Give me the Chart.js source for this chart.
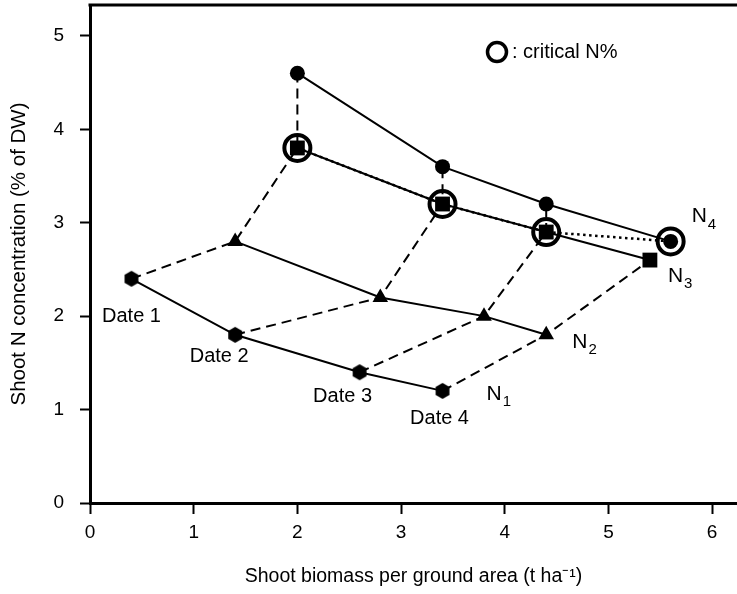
<!DOCTYPE html>
<html>
<head>
<meta charset="utf-8">
<script src="https://cdn.jsdelivr.net/npm/chart.js@4/dist/chart.umd.min.js"></script>
<style>
  html, body { margin: 0; padding: 0; background: #fff; }
  #wrap { width: 737px; height: 594px; }
</style>
</head>
<body>
<div id="wrap"><canvas id="nChart" width="737" height="594"></canvas></div>
<script>
// biomass (x) and N concentration (y) per N level, one value per date
const n1X = [0.4, 1.4, 2.6, 3.4];
const n1Y = [2.4, 1.8, 1.4, 1.2];
const n2X = [1.4, 2.8, 3.8, 4.4];
const n2Y = [2.8, 2.2, 2.0, 1.8];
const n3X = [2.0, 3.4, 4.4, 5.4];
const n3Y = [3.8, 3.2, 2.9, 2.6];
const n4X = [2.0, 3.4, 4.4, 5.6];
const n4Y = [4.6, 3.6, 3.2, 2.8];

// critical N% points
const critX = [2.0, 3.4, 4.4, 5.6];
const critY = [3.8, 3.2, 2.9, 2.8];

// how many N levels the dashed line of each date joins
const dateLevels = [4, 4, 4, 3];

const dateLabels = ['Date 1', 'Date 2', 'Date 3', 'Date 4'];
const levelLabels = ['1', '2', '3', '4'];

const xTicks = [0, 1, 2, 3, 4, 5, 6];
const yTicks = [0, 1, 2, 3, 4, 5];

const FONT = '"Liberation Sans", Arial, sans-serif';

function pts(xs, ys) {
    return xs.map((x, i) => ({ x: x, y: ys[i] }));
}

// hexagon marker for N1
function hexagon(r) {
    const c = document.createElement('canvas');
    c.width = c.height = r * 2 + 2;
    const ctx = c.getContext('2d');
    ctx.beginPath();
    for (let k = 0; k < 6; k++) {
        const a = Math.PI / 6 + k * Math.PI / 3;
        const px = r + 1 + r * Math.cos(a);
        const py = r + 1 + r * Math.sin(a);
        if (k === 0) ctx.moveTo(px, py); else ctx.lineTo(px, py);
    }
    ctx.closePath();
    ctx.fillStyle = '#000';
    ctx.fill();
    return c;
}

const allX = [n1X, n2X, n3X, n4X];
const allY = [n1Y, n2Y, n3Y, n4Y];

const dateLines = dateLabels.map((lbl, d) => {
    const data = [];
    for (let l = 0; l < dateLevels[d]; l++) data.push({ x: allX[l][d], y: allY[l][d] });
    return {
        label: lbl, data: data, showLine: true, borderColor: '#000',
        borderWidth: 2, borderDash: [10, 6], pointRadius: 0, fill: false
    };
});

const datasets = [
    {
        label: 'critical N%', data: pts(critX, critY), showLine: false,
        pointStyle: 'circle', pointRadius: 13, pointBorderWidth: 4,
        pointBorderColor: '#000', pointBackgroundColor: 'rgba(0,0,0,0)'
    },
    {
        label: 'N4', data: pts(n4X, n4Y), showLine: true, borderColor: '#000', borderWidth: 2,
        pointStyle: 'circle', pointRadius: 7.5, pointBackgroundColor: '#000', pointBorderWidth: 0
    },
    {
        label: 'N3', data: pts(n3X, n3Y), showLine: true, borderColor: '#000', borderWidth: 2,
        pointStyle: 'rect', pointRadius: 10.5, pointBackgroundColor: '#000', pointBorderWidth: 0
    },
    {
        label: 'N2', data: pts(n2X, n2Y), showLine: true, borderColor: '#000', borderWidth: 2,
        pointStyle: 'triangle', pointRadius: 9, pointBackgroundColor: '#000', pointBorderWidth: 0
    },
    {
        label: 'N1', data: pts(n1X, n1Y), showLine: true, borderColor: '#000', borderWidth: 2,
        pointStyle: hexagon(8), pointRadius: 8, pointBorderWidth: 0
    },
    {
        label: 'critical line', data: pts(critX, critY), showLine: true, borderColor: '#000',
        borderWidth: 2.5, borderDash: [2.5, 3.5], pointRadius: 0
    }
].concat(dateLines);

// frame top line, text labels and legend drawn on top of the plot
const annotations = {
    id: 'annotations',
    afterDraw(chart) {
        const ctx = chart.ctx;
        const xs = chart.scales.x, ys = chart.scales.y;
        const area = chart.chartArea;
        ctx.save();

        ctx.strokeStyle = '#000';
        ctx.lineWidth = 3;
        ctx.beginPath();
        ctx.moveTo(area.left - 1.5, area.top);
        ctx.lineTo(chart.width, area.top);
        ctx.stroke();

        ctx.fillStyle = '#000';
        ctx.textBaseline = 'middle';
        ctx.font = '20px ' + FONT;

        // date labels under N1 points
        const dOff = [[0, 38], [-16, 22], [-17, 24], [-3, 28]];
        dateLabels.forEach((t, i) => {
            ctx.textAlign = 'center';
            ctx.fillText(t, xs.getPixelForValue(n1X[i]) + dOff[i][0], ys.getPixelForValue(n1Y[i]) + dOff[i][1]);
        });

        // N level labels next to last point
        const nOff = [[44, 3], [26, 7], [18, 16], [21, -25]];
        levelLabels.forEach((s, l) => {
            const last = allX[l].length - 1;
            const px = xs.getPixelForValue(allX[l][last]) + nOff[l][0];
            const py = ys.getPixelForValue(allY[l][last]) + nOff[l][1];
            ctx.textAlign = 'left';
            ctx.font = '21px ' + FONT;
            ctx.fillText('N', px, py);
            const w = ctx.measureText('N').width;
            ctx.font = '15px ' + FONT;
            ctx.fillText(s, px + w + 1, py + 8);
        });

        // legend
        const lx = 497, ly = 52;
        ctx.beginPath();
        ctx.lineWidth = 3.5;
        ctx.arc(lx, ly, 9.5, 0, Math.PI * 2);
        ctx.stroke();
        ctx.font = '20px ' + FONT;
        ctx.textAlign = 'left';
        ctx.fillText(': critical N%', lx + 15, ly);

        ctx.restore();
    }
};

new Chart(document.getElementById('nChart').getContext('2d'), {
    type: 'scatter',
    data: { datasets: datasets },
    plugins: [annotations],
    options: {
        responsive: false,
        animation: false,
        layout: { autoPadding: false, padding: { top: 5, right: 0, left: 0, bottom: 0 } },
        plugins: { legend: { display: false }, tooltip: { enabled: false } },
        scales: {
            x: {
                type: 'linear', min: 0, max: 6.24,
                afterBuildTicks: s => { s.ticks = xTicks.map(v => ({ value: v })); },
                afterFit: s => { s.height = 91; s.paddingLeft = 0; s.paddingRight = 0; },
                border: { display: true, color: '#000', width: 3 },
                grid: { drawOnChartArea: false, drawTicks: true, tickLength: 11, tickColor: '#000', tickWidth: 2 },
                ticks: { color: '#000', font: { family: FONT, size: 19 }, padding: 7 },
                title: {
                    display: true, text: 'Shoot biomass per ground area (t ha\u207B\u00B9)',
                    color: '#000', font: { family: FONT, size: 19.5 }, padding: { top: 0, bottom: 6 }
                }
            },
            y: {
                type: 'linear', min: 0, max: 5.33,
                afterBuildTicks: s => { s.ticks = yTicks.map(v => ({ value: v })); },
                afterFit: s => { s.width = 90; s.paddingTop = 0; s.paddingBottom = 0; },
                border: { display: true, color: '#000', width: 3 },
                grid: { drawOnChartArea: false, drawTicks: true, tickLength: 10, tickColor: '#000', tickWidth: 2 },
                ticks: { color: '#000', font: { family: FONT, size: 19 }, padding: 16 },
                title: {
                    display: true, text: 'Shoot N concentration (% of DW)',
                    color: '#000', font: { family: FONT, size: 20.5 }, padding: { top: 7, bottom: 7 }
                }
            }
        }
    }
});
</script>
</body>
</html>
